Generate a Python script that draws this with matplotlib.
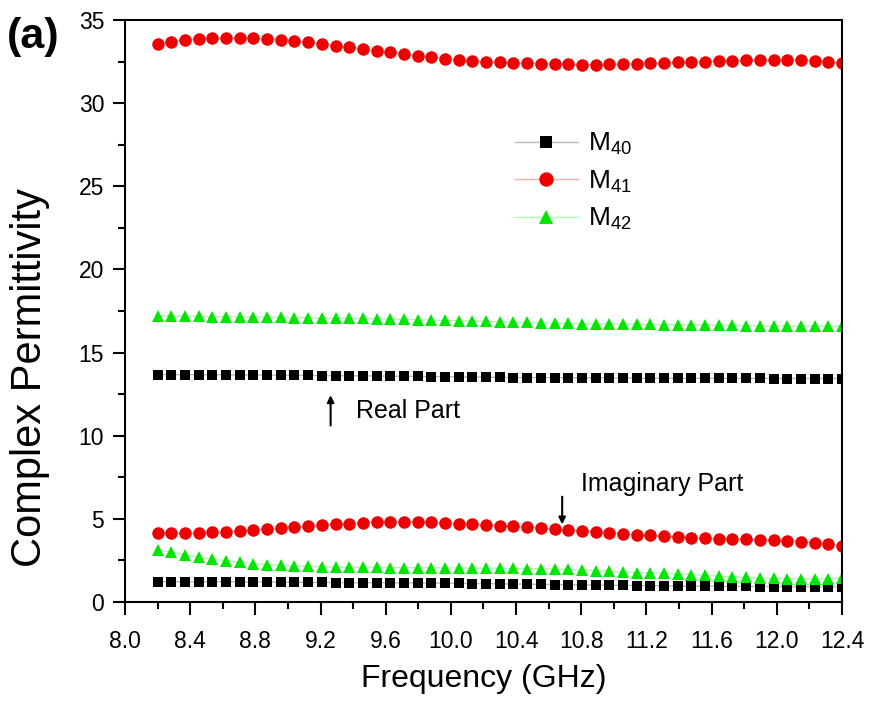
import numpy as np
import matplotlib
matplotlib.use("Agg")
import matplotlib.pyplot as plt

plt.rcParams['font.family'] = ['Liberation Sans', 'DejaVu Sans']
plt.rcParams['mathtext.fontset'] = 'custom'
plt.rcParams['mathtext.rm'] = 'Liberation Sans'
plt.rcParams['mathtext.it'] = 'Liberation Sans'

# measurement grid, X band 8.2 - 12.4 GHz, 51 points
freq = np.round(np.linspace(8.2, 12.4, 51), 3)

# real part
m40_real = [13.68, 13.68, 13.67, 13.67, 13.66, 13.66, 13.65, 13.65, 13.64, 13.64,
            13.63, 13.63, 13.62, 13.61, 13.61, 13.60, 13.59, 13.58, 13.58, 13.57,
            13.56, 13.55, 13.54, 13.53, 13.52, 13.51, 13.50, 13.50, 13.49, 13.49,
            13.48, 13.48, 13.48, 13.47, 13.47, 13.47, 13.46, 13.46, 13.46, 13.46,
            13.45, 13.45, 13.45, 13.45, 13.45, 13.44, 13.44, 13.44, 13.44, 13.44, 13.44]
m41_real = [33.55, 33.70, 33.80, 33.85, 33.90, 33.92, 33.92, 33.90, 33.88, 33.82,
            33.75, 33.65, 33.55, 33.45, 33.35, 33.25, 33.15, 33.05, 32.95, 32.85,
            32.75, 32.68, 32.60, 32.55, 32.50, 32.45, 32.42, 32.40, 32.38, 32.35,
            32.33, 32.32, 32.32, 32.33, 32.35, 32.37, 32.40, 32.42, 32.45, 32.48,
            32.50, 32.52, 32.55, 32.57, 32.60, 32.60, 32.60, 32.58, 32.55, 32.50, 32.42]
m42_real = [17.20, 17.19, 17.18, 17.17, 17.16, 17.15, 17.14, 17.13, 17.12, 17.11,
            17.10, 17.09, 17.08, 17.07, 17.06, 17.05, 17.03, 17.01, 16.99, 16.97,
            16.95, 16.93, 16.91, 16.89, 16.87, 16.85, 16.83, 16.81, 16.79, 16.77,
            16.75, 16.74, 16.73, 16.72, 16.71, 16.70, 16.69, 16.68, 16.67, 16.66,
            16.65, 16.64, 16.63, 16.62, 16.61, 16.60, 16.60, 16.59, 16.59, 16.58, 16.58]

# imaginary part
m40_imag = [1.22, 1.22, 1.22, 1.21, 1.21, 1.21, 1.20, 1.20, 1.20, 1.19,
            1.19, 1.18, 1.18, 1.17, 1.17, 1.16, 1.16, 1.15, 1.15, 1.14,
            1.14, 1.13, 1.12, 1.11, 1.10, 1.09, 1.08, 1.07, 1.06, 1.05,
            1.04, 1.03, 1.02, 1.01, 1.00, 0.99, 0.98, 0.97, 0.96, 0.96,
            0.95, 0.95, 0.94, 0.94, 0.93, 0.93, 0.92, 0.92, 0.91, 0.91, 0.90]
m41_imag = [4.14, 4.12, 4.12, 4.14, 4.18, 4.23, 4.28, 4.33, 4.38, 4.43,
            4.49, 4.55, 4.61, 4.67, 4.72, 4.77, 4.81, 4.83, 4.84, 4.82,
            4.79, 4.75, 4.71, 4.67, 4.63, 4.59, 4.55, 4.50, 4.45, 4.40,
            4.35, 4.29, 4.23, 4.17, 4.11, 4.05, 4.00, 3.95, 3.90, 3.86,
            3.83, 3.80, 3.78, 3.76, 3.74, 3.71, 3.67, 3.62, 3.56, 3.48, 3.38]
m42_imag = [3.15, 2.98, 2.84, 2.70, 2.58, 2.48, 2.38, 2.30, 2.24, 2.20,
            2.17, 2.14, 2.12, 2.10, 2.09, 2.08, 2.08, 2.07, 2.07, 2.06,
            2.06, 2.05, 2.05, 2.04, 2.04, 2.03, 2.02, 2.01, 2.00, 1.98,
            1.96, 1.93, 1.89, 1.85, 1.81, 1.77, 1.75, 1.73, 1.69, 1.65,
            1.60, 1.56, 1.52, 1.48, 1.45, 1.42, 1.40, 1.39, 1.39, 1.40, 1.43]

xticks = [8.0, 8.4, 8.8, 9.2, 9.6, 10.0, 10.4, 10.8, 11.2, 11.6, 12.0, 12.4]
yticks = [0, 5, 10, 15, 20, 25, 30, 35]

fig = plt.figure(figsize=(8.69, 7.04), dpi=100)
ax = fig.add_axes([0.1438, 0.1449, 0.8251, 0.8267])

black = '#000000'
red = '#ee0000'
green = '#00e600'

ax.plot(freq, m40_real, color='#bbbbbb', lw=1, marker='s', ms=7, mfc=black, mec=black, mew=0, label='M$_{40}$')
ax.plot(freq, m41_real, color='#ffaaaa', lw=1, marker='o', ms=9, mfc=red, mec=red, mew=0, label='M$_{41}$')
ax.plot(freq, m42_real, color='#aaffaa', lw=1, marker='^', ms=9, mfc=green, mec=green, mew=0, label='M$_{42}$')
ax.plot(freq, m40_imag, color='#bbbbbb', lw=1, marker='s', ms=7, mfc=black, mec=black, mew=0)
ax.plot(freq, m41_imag, color='#ffaaaa', lw=1, marker='o', ms=9, mfc=red, mec=red, mew=0)
ax.plot(freq, m42_imag, color='#aaffaa', lw=1, marker='^', ms=9, mfc=green, mec=green, mew=0)

ax.set_xlim(8.0, 12.4)
ax.set_ylim(0, 35)
ax.set_xticks(xticks)
ax.set_xticklabels(['%.1f' % v for v in xticks])
ax.set_yticks(yticks)
ax.xaxis.set_minor_locator(plt.MultipleLocator(0.2))
ax.yaxis.set_minor_locator(plt.MultipleLocator(2.5))
ax.tick_params(which='major', direction='out', length=9, width=1.5, labelsize=16.5)
ax.tick_params(which='minor', direction='out', length=5, width=1.5)
ax.tick_params(axis='x', pad=11)
ax.tick_params(axis='y', pad=6)
for s in ax.spines.values():
    s.set_linewidth(1.5)

ax.set_xlabel('Frequency (GHz)', fontsize=23, labelpad=8)
ax.set_ylabel('Complex Permittivity', fontsize=30)
ax.yaxis.set_label_coords(-0.104, 0.385)

ax.annotate('', xy=(9.262, 12.6), xytext=(9.262, 10.45),
            arrowprops=dict(arrowstyle='-|>', color='black', lw=1.5, mutation_scale=10))
ax.text(9.415, 11.46, 'Real Part', fontsize=18, va='center', ha='left')
ax.annotate('', xy=(10.683, 4.5), xytext=(10.683, 6.5),
            arrowprops=dict(arrowstyle='-|>', color='black', lw=1.5, mutation_scale=10))
ax.text(10.8, 7.1, 'Imaginary Part', fontsize=18, va='center', ha='left')

fig.text(0.008, 0.948, '(a)', fontsize=31, fontweight='bold', va='center', ha='left')

ax.legend(loc='center', bbox_to_anchor=(0.66, 0.742), bbox_transform=fig.transFigure,
          frameon=False, fontsize=19, handlelength=2.4, handletextpad=0.4, labelspacing=0.42,
          markerscale=1.15)

plt.savefig('out.png', dpi=100)
